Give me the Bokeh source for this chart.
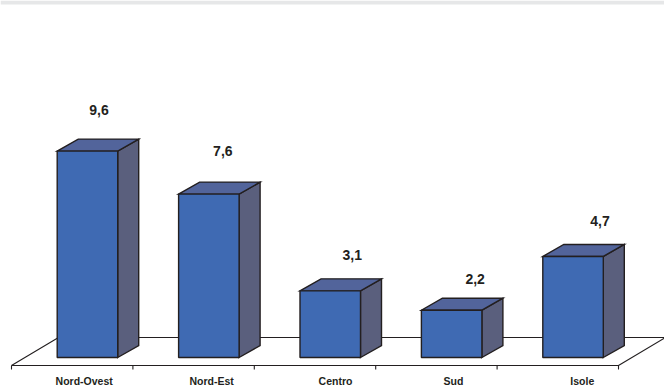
from bokeh.plotting import figure
from bokeh.models import Range1d
from bokeh.core.properties import value
from bokeh.embed import file_html
from bokeh.resources import INLINE

categories = ["Nord-Ovest", "Nord-Est", "Centro", "Sud", "Isole"]
values = [9.6, 7.6, 3.1, 2.2, 4.7]
labels = ["9,6", "7,6", "3,1", "2,2", "4,7"]

W, H = 664, 390
CAT_PX = 121.4      # px per category
UNIT_PX = 21.5      # px per value unit
X0_PX, Y0_PX = 11, 357

x_range = Range1d(-X0_PX / CAT_PX, (W - X0_PX) / CAT_PX)
y_range = Range1d((Y0_PX - H) / UNIT_PX, Y0_PX / UNIT_PX)

p = figure(width=W, height=H, x_range=x_range, y_range=y_range,
           output_backend="svg", toolbar_location=None,
           min_border=0, outline_line_color=None)
p.axis.visible = False
p.grid.visible = False
p.styles = {"position": "absolute", "left": "0px", "top": "0px"}

INK = "#231f20"
dx = 21 / CAT_PX
dy = 12 / UNIT_PX
offset = 45.7 / CAT_PX
bw = 60.5 / CAT_PX
floor_y = -8 / UNIT_PX
n = len(categories)

# grey band at the page top
p.quad(left=[x_range.start], right=[x_range.end], bottom=[y_range.end - 4 / UNIT_PX],
       top=[y_range.end], fill_color="#e6e7e8", line_color=None)

# floor
back_y = floor_y + 28 / UNIT_PX
fdx = 47 / CAT_PX
p.line([fdx, 0, n, n + fdx], [back_y, floor_y, floor_y, back_y], line_color=INK, line_width=1.1)
p.line([fdx, n + fdx], [back_y, back_y], line_color=INK, line_width=1.1)
p.segment(x0=list(range(n + 1)), x1=list(range(n + 1)),
          y0=[floor_y] * (n + 1), y1=[floor_y - 4 / UNIT_PX] * (n + 1),
          line_color=INK, line_width=1.1)

# bars
for i, v in enumerate(values):
    l = i + offset
    r = l + bw
    p.patch([r, r + dx, r + dx, r], [0, dy, v + dy, v], fill_color="#5a5f7d",
            line_color=INK, line_width=1.4, line_join="miter")
    p.patch([l, r, r + dx, l + dx], [v, v, v + dy, v + dy], fill_color="#52649b",
            line_color=INK, line_width=1.4, line_join="miter")
    p.quad(left=[l], right=[r], bottom=[0], top=[v], fill_color="#3f6ab3",
           line_color=INK, line_width=1.4)

# value labels
lift_px = [41, 43, 35.5, 31, 35]
shift_px = [11.5, 14, 22, 23.5, 27]
p.text([i + offset + bw / 2 + shift_px[i] / CAT_PX for i in range(n)],
       [v + lift_px[i] / UNIT_PX for i, v in enumerate(values)],
       text=labels, text_font=value("Liberation Sans"), text_font_style="bold",
       text_font_size="14px", text_color=INK, text_align="center", text_baseline="middle")

# category labels
cat_shift_px = [12, 18, 20.5, 17, 24.5]
p.text([i + 0.5 + cat_shift_px[i] / CAT_PX for i in range(n)],
       [floor_y - 15 / UNIT_PX] * n,
       text=categories, text_font=value("Liberation Sans"), text_font_style="bold",
       text_font_size="10.5px", text_color=INK, text_align="center", text_baseline="middle")

open("out.html", "w").write(file_html(p, INLINE))
